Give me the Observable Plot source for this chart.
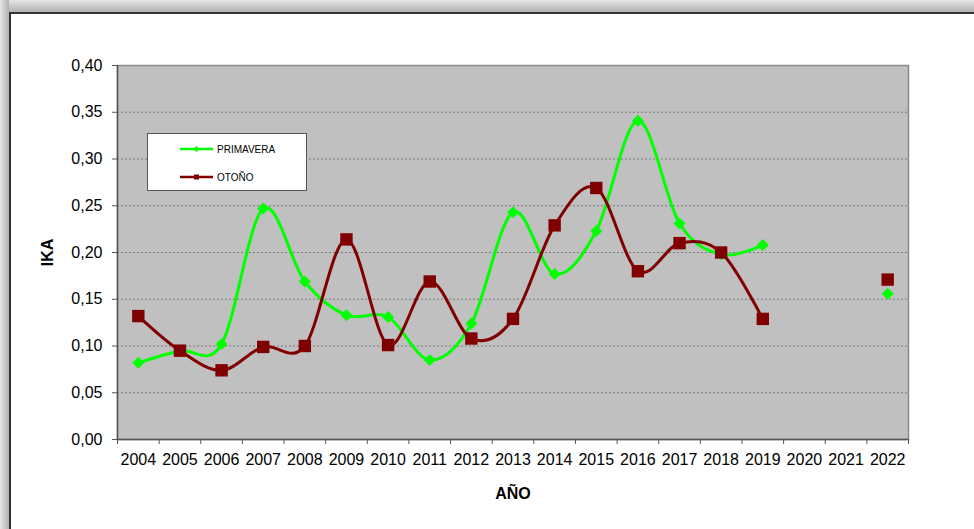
<!DOCTYPE html>
<html>
<head>
<meta charset="utf-8">
<script src="https://cdn.jsdelivr.net/npm/d3@7"></script>
<script src="https://cdn.jsdelivr.net/npm/@observablehq/plot@0.6"></script>
<style>
  html, body { margin: 0; padding: 0; background: #fff; }
  #wrap { position: relative; width: 974px; height: 529px; overflow: hidden; background: #fff; font-family: "Liberation Sans", Arial, sans-serif; }
  #topshade { position: absolute; left: 0; top: 0; width: 974px; height: 12px; background: linear-gradient(to bottom, #e6e6e6, #b2b2b2); }
  #leftshade { position: absolute; left: 0; top: 0; width: 9px; height: 529px; background: linear-gradient(to right, #e6e6e6, #b2b2b2); }
  #panel { position: absolute; left: 9px; top: 12px; width: 980px; height: 530px; background: #fff; border-left: 2px solid #333; border-top: 2px solid #333; }
  #chart { position: absolute; left: 0; top: 0; }
  #legend { position: absolute; left: 147px; top: 133px; width: 158px; height: 56px; background: #fff; border: 1px solid #555; }
  .item { position: absolute; left: 0; height: 14px; display: flex; align-items: center; font-size: 10px; color: #000; }
  .item svg { margin-left: 32px; margin-right: 4px; }
</style>
</head>
<body>
<div id="wrap">
  <div id="topshade"></div>
  <div id="leftshade"></div>
  <div id="panel"></div>
  <div id="chart"></div>
  <div id="legend"></div>
</div>
<script>
const years = [2004, 2005, 2006, 2007, 2008, 2009, 2010, 2011, 2012, 2013, 2014, 2015, 2016, 2017, 2018, 2019, 2020, 2021, 2022];
const primavera = [0.082, 0.095, 0.102, 0.247, 0.169, 0.133, 0.131, 0.085, 0.124, 0.243, 0.177, 0.223, 0.341, 0.231, 0.198, 0.208, null, null, 0.156];
const otono = [0.132, 0.095, 0.074, 0.099, 0.100, 0.214, 0.101, 0.169, 0.108, 0.129, 0.229, 0.269, 0.180, 0.210, 0.200, 0.129, null, null, 0.171];
const seriesNames = ["PRIMAVERA", "OTOÑO"];
const yTicks = [0, 0.05, 0.10, 0.15, 0.20, 0.25, 0.30, 0.35, 0.40];
const xTitle = "AÑO";
const yTitle = "IKA";

const GREEN = "#00ff00";
const RED = "#800000";

const dataP = years.map((year, i) => ({year, value: primavera[i]}));
const dataO = years.map((year, i) => ({year, value: otono[i]}));
const edges = years.map(y => y - 0.5).concat([years[years.length - 1] + 0.5]);

const chart = Plot.plot({
  width: 974,
  height: 529,
  marginLeft: 117,
  marginRight: 66,
  marginTop: 65,
  marginBottom: 90,
  x: {domain: [years[0] - 0.5, years[years.length - 1] + 0.5]},
  y: {domain: [yTicks[0], yTicks[yTicks.length - 1]]},
  style: {background: "transparent", fontFamily: "'Liberation Sans', Arial, sans-serif", fontSize: "16px", color: "#000", overflow: "visible"},
  marks: [
    Plot.frame({fill: "#c0c0c0", stroke: null}),
    Plot.ruleY(yTicks.filter(d => d > 0 && d < 0.4), {stroke: "#7a7a7a", strokeDasharray: "2,2", strokeWidth: 1}),
    Plot.frame({stroke: "#8a8a8a", strokeWidth: 1.5}),
    Plot.ruleX([years[0] - 0.5], {stroke: "#555", strokeWidth: 1.5}),
    Plot.ruleY([0], {stroke: "#555", strokeWidth: 1.5}),
    Plot.axisY({ticks: yTicks, tickSize: 5, tickPadding: 10, tickFormat: d => d.toFixed(2).replace(".", ","), stroke: "#555", fontSize: 16, label: null}),
    Plot.axisX({ticks: years, tickSize: 0, tickPadding: 14, tickFormat: d => String(d), fontSize: 16, label: null}),
    Plot.axisX({ticks: edges, tickSize: 5, tickFormat: () => "", stroke: "#555", label: null}),
    Plot.line(dataP, {x: "year", y: "value", stroke: GREEN, strokeWidth: 3, curve: "cardinal"}),
    Plot.dot(dataP, {x: "year", y: "value", symbol: "diamond2", r: 5.4, fill: GREEN, stroke: null}),
    Plot.line(dataO, {x: "year", y: "value", stroke: RED, strokeWidth: 3, curve: "cardinal"}),
    Plot.dot(dataO, {x: "year", y: "value", symbol: "square", r: 7, fill: RED, stroke: null}),
    Plot.text([yTitle], {frameAnchor: "left", dx: -70, rotate: -90, fontWeight: "bold", fontSize: 16, lineAnchor: "middle", textAnchor: "middle"}),
    Plot.text([xTitle], {frameAnchor: "bottom", dy: 54, fontWeight: "bold", fontSize: 16, lineAnchor: "middle", textAnchor: "middle"})
  ]
});
document.getElementById("chart").appendChild(chart);

// Legend
const legend = document.getElementById("legend");
const legendItems = [
  {name: seriesNames[0], color: GREEN, marker: "diamond", top: 8},
  {name: seriesNames[1], color: RED, marker: "square", top: 36}
];
for (const it of legendItems) {
  const div = document.createElement("div");
  div.className = "item";
  div.style.top = it.top + "px";
  const m = it.marker === "diamond"
    ? `<path d="M16.5,4 L19.5,7 L16.5,10 L13.5,7 Z" fill="${it.color}"/>`
    : `<rect x="14" y="4.5" width="5" height="5" fill="${it.color}"/>`;
  div.innerHTML = `<svg width="33" height="14"><line x1="0" y1="7" x2="33" y2="7" stroke="${it.color}" stroke-width="2.5"/>${m}</svg><span>${it.name}</span>`;
  legend.appendChild(div);
}
</script>
</body>
</html>
